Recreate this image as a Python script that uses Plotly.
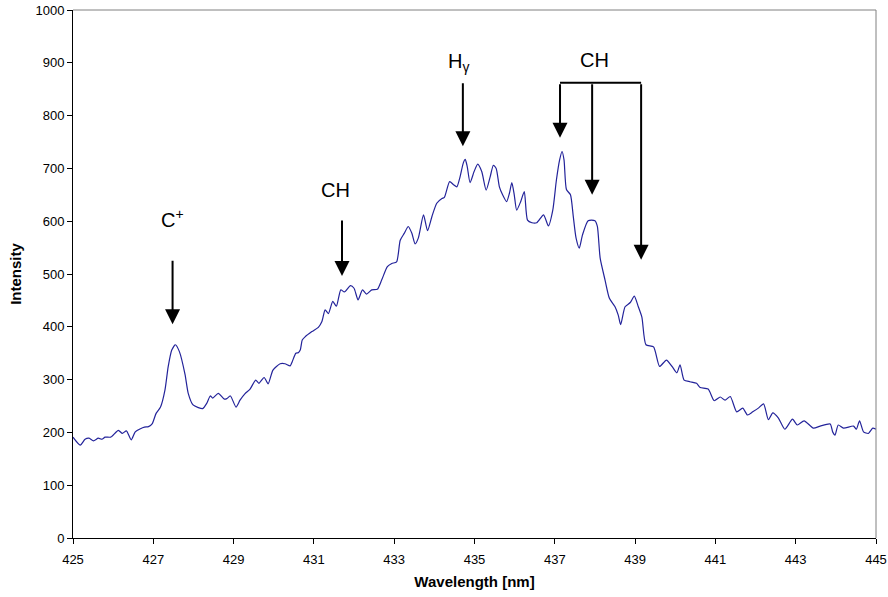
import plotly.graph_objects as go

# Emission spectrum: wavelength (nm) and measured intensity (arb. units)
wavelength = [
    425.00, 425.18, 425.30, 425.40, 425.51, 425.63, 425.72, 425.80, 425.94, 426.13,
    426.23, 426.33, 426.45, 426.55, 426.68, 426.78, 426.88, 426.97, 427.07, 427.18,
    427.29, 427.37, 427.46, 427.55, 427.65, 427.79, 427.87, 427.99, 428.12, 428.23,
    428.33, 428.42, 428.48, 428.62, 428.77, 428.83, 428.92, 429.06, 429.16, 429.28,
    429.41, 429.55, 429.63, 429.76, 429.86, 429.98, 430.16, 430.28, 430.41, 430.46,
    430.55, 430.61, 430.66, 430.71, 430.78, 430.95, 431.11, 431.20, 431.28, 431.36,
    431.47, 431.56, 431.67, 431.76, 431.91, 432.00, 432.10, 432.21, 432.31, 432.44,
    432.58, 432.69, 432.83, 432.94, 433.06, 433.15, 433.25, 433.35, 433.44, 433.52,
    433.60, 433.73, 433.83, 433.94, 434.06, 434.19, 434.25, 434.38, 434.48, 434.56,
    434.64, 434.72, 434.77, 434.82, 434.89, 434.99, 435.08, 435.18, 435.29, 435.39,
    435.47, 435.54, 435.62, 435.70, 435.80, 435.87, 435.93, 435.99, 436.05, 436.15,
    436.24, 436.32, 436.43, 436.55, 436.72, 436.84, 436.95, 437.04, 437.12, 437.18,
    437.23, 437.29, 437.39, 437.46, 437.53, 437.61, 437.69, 437.83, 438.00, 438.06,
    438.13, 438.25, 438.36, 438.50, 438.58, 438.64, 438.75, 438.88, 438.98, 439.08,
    439.17, 439.27, 439.46, 439.61, 439.78, 439.92, 440.04, 440.12, 440.22, 440.37,
    440.53, 440.62, 440.82, 440.97, 441.12, 441.24, 441.37, 441.53, 441.68, 441.80,
    441.93, 442.07, 442.20, 442.32, 442.43, 442.57, 442.73, 442.92, 443.04, 443.21,
    443.44, 443.61, 443.86, 443.92, 443.98, 444.06, 444.19, 444.44, 444.51, 444.59,
    444.69, 444.81, 444.92, 445.00,
]
intensity = [
    191, 176, 187, 189, 184, 189, 187, 191, 191, 204,
    198, 203, 186, 201, 207, 210, 211, 216, 236, 248,
    280, 324, 356, 366, 353, 310, 274, 252, 247, 245,
    255, 269, 265, 274, 263, 264, 269, 248, 261, 273,
    282, 299, 293, 304, 292, 318, 330, 330, 326, 334,
    350, 351, 356, 375, 381, 391, 399, 410, 432, 425,
    448, 439, 470, 466, 478, 473, 451, 470, 462, 470,
    471, 489, 514, 520, 523, 564, 577, 590, 577, 557,
    568, 612, 582, 609, 634, 643, 645, 675, 669, 665,
    684, 710, 717, 703, 673, 694, 708, 694, 659, 684,
    706, 700, 665, 650, 637, 653, 673, 650, 621, 637,
    656, 602, 597, 597, 612, 591, 621, 678, 716, 732,
    716, 660, 650, 609, 568, 549, 574, 601, 601, 590,
    530, 489, 454, 438, 422, 404, 438, 446, 458, 438,
    418, 366, 362, 325, 337, 325, 313, 328, 299, 296,
    293, 285, 282, 260, 267, 261, 268, 239, 246, 233,
    239, 246, 254, 224, 237, 227, 206, 225, 214, 222,
    208, 212, 216, 201, 195, 214, 208, 212, 206, 222,
    201, 198, 208, 206,
]

# Line identifications: label text, label position, arrow tail and tip
labels = ["C<sup>+</sup>", "CH", "H<sub>γ</sub>", "CH"]
label_x = [427.47, 431.53, 434.61, 437.98]
label_y = [606, 659, 900, 905]

arrow_x = [427.48, 431.70, 434.71, 437.13, 437.93, 439.15]
arrow_tail = [528, 604, 864, 862, 862, 862]
arrow_tip = [405, 496, 742, 758, 650, 527]

# Bracket joining the three CH arrows
bracket_x = [437.13, 439.15]
bracket_y = 862

fig = go.Figure()
fig.add_trace(go.Scatter(
    x=wavelength, y=intensity, mode="lines", line_shape="spline",
    line=dict(color="#23239a", width=1.2, smoothing=0.6),
    hoverinfo="x+y", showlegend=False,
))

annotations = []
for t, x, y in zip(labels, label_x, label_y):
    annotations.append(dict(
        x=x, y=y, xref="x", yref="y", text=t, showarrow=False,
        font=dict(family="Liberation Sans, Arial", size=20, color="black"),
    ))
for x, y0, y1 in zip(arrow_x, arrow_tail, arrow_tip):
    annotations.append(dict(
        x=x, y=y1, ax=x, ay=y0, xref="x", yref="y", axref="x", ayref="y",
        text="", showarrow=True, arrowhead=2, arrowsize=1.5, arrowwidth=2,
        arrowcolor="black", standoff=0, startstandoff=0,
    ))

shapes = [
    dict(type="line", xref="x", yref="y", x0=bracket_x[0], x1=bracket_x[1],
         y0=bracket_y, y1=bracket_y, line=dict(color="black", width=2)),
    # plot-area border on top and right
    dict(type="line", xref="paper", yref="paper", x0=0, x1=1, y0=1, y1=1,
         line=dict(color="#808080", width=1)),
    dict(type="line", xref="paper", yref="paper", x0=1, x1=1, y0=0, y1=1,
         line=dict(color="#808080", width=1)),
]

tick_font = dict(family="Liberation Sans, Arial", size=13, color="black")
title_font = dict(family="Liberation Sans, Arial", size=15, color="black")

fig.update_layout(
    width=888, height=597,
    margin=dict(l=73, r=12, t=10, b=59),
    paper_bgcolor="white", plot_bgcolor="white",
    annotations=annotations, shapes=shapes,
    xaxis=dict(
        range=[425, 445], tick0=425, dtick=2, showgrid=False, zeroline=False,
        showline=True, linecolor="black", linewidth=1, automargin=False,
        ticks="outside", ticklen=5, tickcolor="black", tickfont=tick_font,
        ticklabelstandoff=4,
        title=dict(text="<b>Wavelength [nm]</b>", font=title_font, standoff=10),
    ),
    yaxis=dict(
        range=[0, 1000], dtick=100, showgrid=False, zeroline=False,
        showline=True, linecolor="black", linewidth=1, automargin=False,
        ticks="outside", ticklen=5, tickcolor="black", tickfont=tick_font,
        title=dict(text="<b>Intensity</b>", font=title_font, standoff=10),
    ),
)

fig.write_html("out.html")
